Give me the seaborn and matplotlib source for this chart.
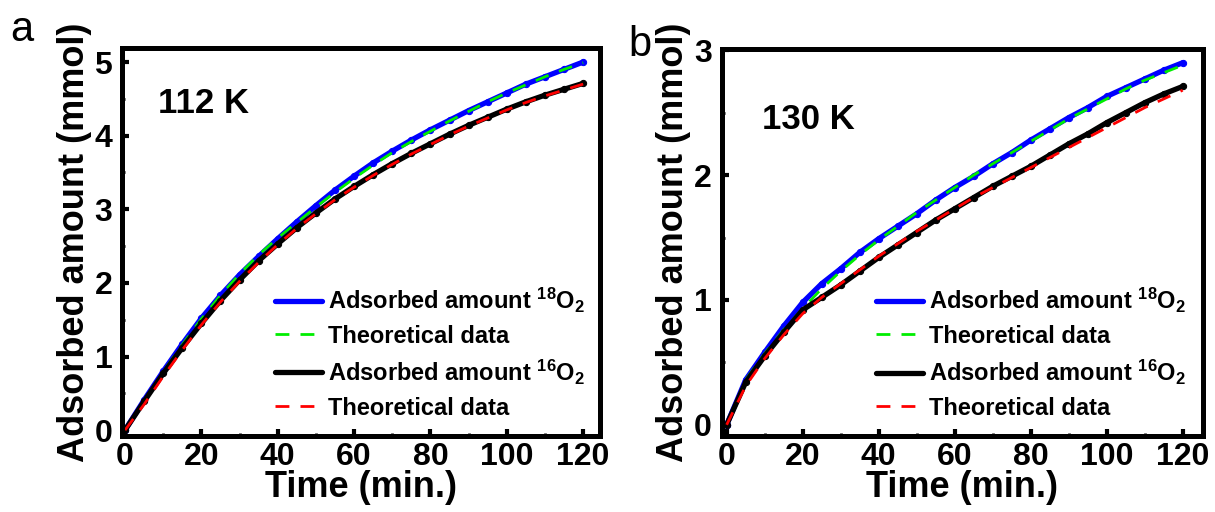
import numpy as np
import pandas as pd
import matplotlib
matplotlib.use("Agg")
import matplotlib.pyplot as plt
import matplotlib.lines as mlines
import seaborn as sns
from matplotlib.ticker import MultipleLocator

sns.set_theme(style="ticks")
plt.rcParams["font.family"] = ["Liberation Sans", "DejaVu Sans"]
plt.rcParams["font.weight"] = "bold"
plt.rcParams["mathtext.fontset"] = "custom"
plt.rcParams["mathtext.rm"] = "Liberation Sans:bold"
plt.rcParams["mathtext.bf"] = "Liberation Sans:bold"
plt.rcParams["mathtext.it"] = "Liberation Sans:bold"
for k in ["text.color", "axes.labelcolor", "xtick.color", "ytick.color", "axes.edgecolor"]:
    plt.rcParams[k] = "black"

# ---------------- data ----------------
time_min = [0, 5, 10, 15, 20, 25, 30, 35, 40, 45, 50, 55, 60,
            65, 70, 75, 80, 85, 90, 95, 100, 105, 110, 115, 120]

# panel a, 112 K
a_o18 = [0, 0.41, 0.80, 1.17, 1.52, 1.83, 2.11, 2.36, 2.60, 2.83, 3.05, 3.26, 3.45,
         3.63, 3.79, 3.94, 4.08, 4.21, 4.34, 4.46, 4.58, 4.70, 4.80, 4.90, 5.00]
a_o18_fit = [0, 0.40, 0.79, 1.16, 1.51, 1.83, 2.12, 2.38, 2.61, 2.82, 3.03, 3.23, 3.42,
             3.60, 3.77, 3.92, 4.06, 4.20, 4.33, 4.46, 4.58, 4.69, 4.80, 4.90, 4.99]
a_o16 = [0, 0.39, 0.77, 1.12, 1.45, 1.76, 2.04, 2.30, 2.53, 2.75, 2.95, 3.14, 3.31,
         3.47, 3.62, 3.76, 3.89, 4.02, 4.14, 4.25, 4.36, 4.46, 4.55, 4.63, 4.71]
a_o16_fit = [0, 0.35, 0.73, 1.09, 1.43, 1.74, 2.02, 2.28, 2.52, 2.74, 2.94, 3.13, 3.30,
             3.46, 3.61, 3.75, 3.88, 4.01, 4.13, 4.24, 4.35, 4.45, 4.54, 4.62, 4.70]

# panel b, 130 K
b_o18 = [0, 0.36, 0.58, 0.79, 0.98, 1.13, 1.25, 1.38, 1.49, 1.59, 1.69, 1.80, 1.90,
         1.99, 2.09, 2.18, 2.28, 2.37, 2.46, 2.54, 2.63, 2.70, 2.77, 2.84, 2.90]
b_o18_fit = [0, 0.36, 0.57, 0.76, 0.93, 1.09, 1.23, 1.36, 1.48, 1.59, 1.70, 1.80, 1.90,
             2.00, 2.09, 2.18, 2.27, 2.36, 2.45, 2.53, 2.61, 2.69, 2.76, 2.82, 2.88]
b_o16 = [0, 0.34, 0.55, 0.74, 0.92, 1.02, 1.12, 1.23, 1.34, 1.44, 1.54, 1.64, 1.73,
         1.82, 1.91, 1.99, 2.07, 2.16, 2.25, 2.33, 2.42, 2.50, 2.58, 2.65, 2.71]
b_o16_fit = [0, 0.31, 0.53, 0.72, 0.89, 1.02, 1.13, 1.24, 1.35, 1.45, 1.55, 1.64, 1.73,
             1.82, 1.90, 1.98, 2.06, 2.14, 2.22, 2.30, 2.38, 2.46, 2.54, 2.61, 2.68]

labels = [r"Adsorbed amount $^{18}$O$_2$", "Theoretical data",
          r"Adsorbed amount $^{16}$O$_2$", "Theoretical data"]
temps = ["112 K", "130 K"]
panel_letters = ["a", "b"]

fig = plt.figure(figsize=(12.15, 5.12), dpi=100)
ax_a = fig.add_axes([0.1004, 0.1484, 0.3934, 0.7578])
ax_b = fig.add_axes([0.594, 0.1484, 0.396, 0.7559])


def draw(ax, o18, o18f, o16, o16f, temp, ylim, xlim, txt_pos, leg_x):
    df = pd.DataFrame({"t": time_min, "o18": o18, "o18f": o18f,
                       "o16": o16, "o16f": o16f})
    sns.lineplot(data=df, x="t", y="o18", ax=ax, color="#0000ff", lw=3.8,
                 marker="o", ms=4.5, mec="#0000ff", legend=False)
    sns.lineplot(data=df, x="t", y="o18f", ax=ax, color="#00ee00", lw=2.0,
                 linestyle=(0, (5, 4)), legend=False)
    sns.lineplot(data=df, x="t", y="o16", ax=ax, color="black", lw=3.8,
                 marker="o", ms=4.5, mec="black", legend=False)
    sns.lineplot(data=df, x="t", y="o16f", ax=ax, color="#ff0000", lw=2.0,
                 linestyle=(0, (5, 4)), legend=False)
    hs = [mlines.Line2D([], [], color="#0000ff", lw=3.8),
          mlines.Line2D([], [], color="#00ee00", lw=2.0, linestyle=(0, (5, 4))),
          mlines.Line2D([], [], color="black", lw=3.8),
          mlines.Line2D([], [], color="#ff0000", lw=2.0, linestyle=(0, (5, 4)))]
    ax.legend(hs, labels, loc="lower left", bbox_to_anchor=(leg_x, 0.03),
              frameon=False, handlelength=2.0, handletextpad=0.25,
              labelspacing=0.42, borderaxespad=0.0, borderpad=0.2,
              prop={"weight": "bold", "size": 17})
    ax.set_xlim(*xlim)
    ax.set_ylim(*ylim)
    ax.xaxis.set_major_locator(MultipleLocator(20))
    ax.xaxis.set_minor_locator(MultipleLocator(10))
    ax.yaxis.set_major_locator(MultipleLocator(1))
    ax.yaxis.set_minor_locator(MultipleLocator(0.5))
    ax.tick_params(which="major", direction="in", length=5, width=3,
                   labelsize=23, colors="black")
    ax.tick_params(axis="x", which="major", pad=4)
    ax.tick_params(axis="y", which="major", pad=7)
    ax.tick_params(which="minor", direction="in", length=2.5, width=2)
    for lab in ax.get_xticklabels() + ax.get_yticklabels():
        lab.set_fontweight("bold")
    for sp in ax.spines.values():
        sp.set_linewidth(3.6)
        sp.set_color("black")
        sp.set_visible(True)
    ax.set_xlabel("Time (min.)", fontsize=26, fontweight="bold", labelpad=-1)
    ax.set_ylabel("Adsorbed amount (mmol)", fontsize=26, fontweight="bold",
                  labelpad=2)
    ax.text(txt_pos[0], txt_pos[1], temp, transform=ax.transAxes,
            fontsize=25, fontweight="bold", va="center", ha="left")
    ax.set_facecolor("white")


draw(ax_a, a_o18, a_o18_fit, a_o16, a_o16_fit, temps[0],
     (-0.08, 5.19), (-0.8, 124.4), (0.075, 0.858), 0.31)
draw(ax_b, b_o18, b_o18_fit, b_o16, b_o16_fit, temps[1],
     (-0.09, 3.01), (-1.3, 125.3), (0.083, 0.817), 0.31)

fig.text(22 / 1215, 1 - 30 / 512, panel_letters[0], fontsize=30,
         fontweight="normal", ha="center", va="center")
fig.text(640 / 1215, 1 - 45 / 512, panel_letters[1], fontsize=30,
         fontweight="normal", ha="center", va="center")

fig.savefig("out.png", dpi=100, facecolor="white")
